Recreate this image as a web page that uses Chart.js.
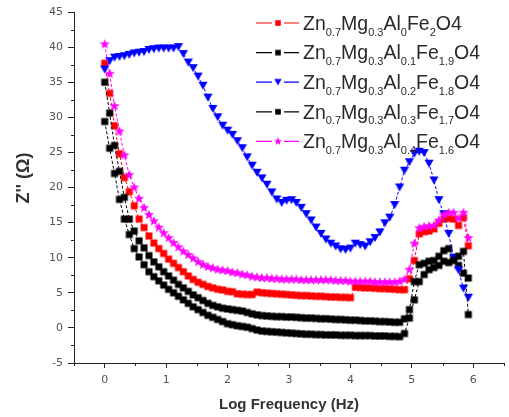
<!DOCTYPE html>
<html>
<head>
<meta charset="utf-8">
<script src="https://cdn.jsdelivr.net/npm/chart.js@4.4.1/dist/chart.umd.min.js"></script>
<style>
  html, body { margin: 0; padding: 0; background: #fff; }
</style>
</head>
<body>
<canvas id="impChart" width="509" height="417"></canvas>
<script>
// log10 of measuring frequency (Hz)
const logF = [
  0, 0.08, 0.16, 0.24, 0.32, 0.4, 0.48, 0.56, 0.64, 0.72,
  0.8, 0.88, 0.96, 1.04, 1.12, 1.2, 1.28, 1.36, 1.44, 1.52,
  1.6, 1.68, 1.76, 1.84, 1.92, 2, 2.08, 2.16, 2.24, 2.32,
  2.4, 2.48, 2.56, 2.64, 2.72, 2.8, 2.88, 2.96, 3.04, 3.12,
  3.2, 3.28, 3.36, 3.44, 3.52, 3.6, 3.68, 3.76, 3.84, 3.92,
  4, 4.08, 4.16, 4.24, 4.32, 4.4, 4.48, 4.56, 4.64, 4.72,
  4.8, 4.88, 4.96, 5.04, 5.12, 5.2, 5.28, 5.36, 5.44, 5.52,
  5.6, 5.68, 5.76, 5.84, 5.92
];

// Z'' (ohm) for each Al content
const zAl00 = [
  37.7, 33.4, 28.8, 24.8, 21.4, 19.4, 17.4, 15.5, 14.3, 13.1,
  12.1, 11.3, 10.6, 9.8, 9.2, 8.6, 8.0, 7.4, 6.9, 6.5,
  6.2, 5.9, 5.7, 5.5, 5.4, 5.2, 5.15, 4.85, 4.8, 4.75,
  4.75, 5.1, 5.0, 4.95, 4.9, 4.85, 4.8, 4.75, 4.7, 4.65,
  4.6, 4.6, 4.55, 4.5, 4.5, 4.45, 4.4, 4.4, 4.35, 4.35,
  4.3, 5.8, 5.75, 5.7, 5.7, 5.65, 5.6, 5.6, 5.55, 5.5,
  5.45, 5.45, 7.0, 9.6, 13.4, 13.7, 13.8, 14.1, 14.9, 15.5,
  15.6, 15.5, 14.6, 15.7, 11.7
];
const zAl01 = [
  35.0, 30.6, 26.0, 22.3, 18.6, 15.5, 13.8, 12.4, 11.4, 10.3,
  9.4, 8.7, 8.0, 7.4, 6.8, 6.2, 5.7, 5.2, 4.7, 4.3,
  3.9, 3.5, 3.2, 3.0, 2.8, 2.7, 2.6, 2.5, 2.4, 2.2,
  2.0, 1.85, 1.75, 1.7, 1.65, 1.6, 1.6, 1.55, 1.55, 1.5,
  1.45, 1.4, 1.4, 1.35, 1.3, 1.3, 1.25, 1.2, 1.2, 1.15,
  1.1, 1.1, 1.05, 1.0, 1.0, 0.95, 0.9, 0.9, 0.85, 0.8,
  0.8, 1.3, 2.6, 6.6, 9.0, 9.2, 9.5, 9.6, 10.2, 11.0,
  11.3, 10.0, 8.9, 7.8, 7.1
];
const zAl02 = [
  36.8, 38.0, 38.5, 38.6, 38.7, 38.9, 39.1, 39.2, 39.3, 39.6,
  39.7, 39.8, 39.8, 39.8, 39.8, 40.0, 39.0, 37.8, 37.0, 35.8,
  34.5, 32.8, 31.2, 30.0, 28.8, 28.1, 27.5, 26.6, 25.6, 24.3,
  23.1, 22.1, 21.3, 20.4, 19.3, 18.3, 17.8, 18.1, 18.2, 17.8,
  17.1, 16.2, 15.3, 14.3, 13.4, 12.6, 12.0, 11.6, 11.2, 11.1,
  11.3, 12.0, 11.8, 11.6, 12.2, 12.8, 13.6, 14.9, 15.7, 17.5,
  20.0, 22.4, 23.6, 24.8, 25.1, 24.9, 23.4, 21.0, 18.2, 16.2,
  13.4, 10.0, 8.2, 5.6, 4.3
];
const zAl03 = [
  29.4, 25.6, 22.0, 18.3, 15.5, 13.3, 11.3, 10.1, 9.0, 8.0,
  7.3, 6.7, 6.1, 5.5, 5.0, 4.5, 4.0, 3.5, 3.0, 2.6,
  2.2, 1.8, 1.5, 1.2, 0.9, 0.6, 0.45, 0.3, 0.2, 0.1,
  -0.1, -0.3, -0.45, -0.5, -0.55, -0.6, -0.65, -0.7, -0.75, -0.8,
  -0.85, -0.9, -0.9, -0.95, -0.95, -1.0, -1.0, -1.0, -1.05, -1.05,
  -1.05, -1.1, -1.1, -1.1, -1.1, -1.15, -1.15, -1.15, -1.2, -1.2,
  -1.25, -0.8, 1.4, 4.0, 6.6, 7.6, 8.3, 8.6, 8.9, 9.5,
  9.3, 9.6, 10.2, 10.9, 1.9
];
const zAl04 = [
  40.4, 36.2, 31.6, 28.0, 24.6, 21.8, 20.0, 18.4, 17.1, 16.1,
  15.2, 14.3, 13.5, 12.8, 12.1, 11.5, 10.9, 10.4, 9.9, 9.4,
  9.0, 8.7, 8.5, 8.3, 8.2, 8.1, 7.9, 7.8, 7.6, 7.5,
  7.3, 7.2, 7.1, 7.1, 7.0, 7.0, 6.9, 6.9, 6.9, 6.9,
  6.8, 6.8, 6.8, 6.8, 6.8, 6.8, 6.8, 6.7, 6.7, 6.7,
  6.6, 6.6, 6.6, 6.6, 6.6, 6.5, 6.5, 6.5, 6.5, 6.5,
  6.6, 6.9, 8.3, 12.0, 14.2, 14.4, 14.5, 14.6, 15.3, 16.1,
  16.4, 16.4, 15.6, 16.4, 12.8
];

// composition subscripts for the legend
const alContent = ['0', '0.1', '0.2', '0.3', '0.4'];
const feContent = ['2', '1.9', '1.8', '1.7', '1.6'];

const xTicks = [0, 1, 2, 3, 4, 5, 6];
const yTicks = [-5, 0, 5, 10, 15, 20, 25, 30, 35, 40, 45];

const seriesY = [zAl00, zAl01, zAl02, zAl03, zAl04];
const colors = ['#ff0000', '#000000', '#0000ff', '#000000', '#ff00ff'];
const shapes = ['square', 'square', 'tri', 'square', 'star'];

function markerCanvas(shape, color, scale) {
  const s = scale || 1;
  const c = document.createElement('canvas');
  c.width = 12; c.height = 12;
  const g = c.getContext('2d');
  g.fillStyle = color;
  g.translate(6, 6);
  g.beginPath();
  if (shape === 'square') {
    g.rect(-3.5 * s, -3.5 * s, 7 * s, 7 * s);
  } else if (shape === 'tri') {
    g.moveTo(-4.6 * s, -4 * s);
    g.lineTo(4.6 * s, -4 * s);
    g.lineTo(0, 4 * s);
    g.closePath();
  } else {
    for (let i = 0; i < 10; i++) {
      const r = (i % 2 ? 2.3 : 5.3) * s;
      const a = -Math.PI / 2 + i * Math.PI / 5;
      g.lineTo(r * Math.cos(a), r * Math.sin(a));
    }
    g.closePath();
  }
  g.fill();
  return c;
}

const datasets = seriesY.map((ys, i) => ({
  data: ys.map((v, k) => ({ x: logF[k], y: v })),
  showLine: true,
  borderColor: colors[i],
  borderWidth: 1,
  borderDash: [3, 2],
  pointStyle: markerCanvas(shapes[i], colors[i]),
  pointRadius: 4,
  order: 5 - i
}));

// legend drawn inside the plot, with subscripted formulas
const formulaLegend = {
  id: 'formulaLegend',
  afterDatasetsDraw(chart) {
    const ctx = chart.ctx;
    ctx.save();
    ctx.setLineDash([]);
    seriesY.forEach((_, i) => {
      const cy = 23 + i * 29.6;
      ctx.strokeStyle = colors[i];
      ctx.lineWidth = 1.2;
      ctx.beginPath();
      ctx.moveTo(256, cy); ctx.lineTo(272, cy);
      ctx.moveTo(284, cy); ctx.lineTo(299, cy);
      ctx.stroke();
      ctx.drawImage(markerCanvas(shapes[i], colors[i], 0.8), 272, cy - 6);
      const parts = [['Zn', 0], ['0.7', 1], ['Mg', 0], ['0.3', 1], ['Al', 0],
        [alContent[i], 1], ['Fe', 0], [feContent[i], 1], ['O4', 0]];
      let x = 303;
      ctx.fillStyle = '#2a2a2a';
      ctx.textBaseline = 'alphabetic';
      parts.forEach(([t, sub]) => {
        ctx.font = sub ? '11px "Liberation Sans", Arial, sans-serif' : '19.5px "Liberation Sans", Arial, sans-serif';
        ctx.fillText(t, x, sub ? cy + 12.5 : cy + 6.8);
        x += ctx.measureText(t).width;
      });
    });
    ctx.restore();
  }
};

// half-step minor ticks on both axes, plus the rotated Z'' title
const axisExtras = {
  id: 'axisExtras',
  afterDraw(chart) {
    const { ctx, scales: { x, y } } = chart;
    ctx.save();
    ctx.strokeStyle = '#222';
    ctx.lineWidth = 1;
    ctx.beginPath();
    [-0.5, 0.5, 1.5, 2.5, 3.5, 4.5, 5.5, 6.5].forEach(v => {
      const px = Math.round(x.getPixelForValue(v)) + 0.5;
      ctx.moveTo(px, y.bottom); ctx.lineTo(px, y.bottom + 3);
    });
    [-2.5, 2.5, 7.5, 12.5, 17.5, 22.5, 27.5, 32.5, 37.5, 42.5].forEach(v => {
      const py = Math.round(y.getPixelForValue(v)) + 0.5;
      ctx.moveTo(x.left, py); ctx.lineTo(x.left - 3, py);
    });
    ctx.stroke();

    ctx.translate(24, 178);
    ctx.rotate(-Math.PI / 2);
    ctx.fillStyle = '#333';
    ctx.font = 'bold 18px "Liberation Sans", Arial, sans-serif';
    ctx.textAlign = 'center';
    ctx.textBaseline = 'middle';
    ctx.fillText("Z'' (Ω)", 0, 0);
    ctx.restore();
  }
};

const tickFont = { family: '"DejaVu Sans", sans-serif', size: 11 };

new Chart(document.getElementById('impChart'), {
  type: 'scatter',
  data: { datasets },
  options: {
    responsive: false,
    animation: false,
    layout: { padding: { top: 12, right: 2, left: 0, bottom: 0 } },
    plugins: { legend: { display: false }, tooltip: { enabled: false } },
    scales: {
      x: {
        type: 'linear', min: -0.5, max: 6.5,
        afterBuildTicks: s => { s.ticks = xTicks.map(v => ({ value: v })); },
        afterFit: s => { s.height = 54; },
        grid: { drawOnChartArea: false, tickLength: 5, tickColor: '#222' },
        border: { color: '#222', width: 1 },
        ticks: { padding: 6, color: '#555', font: tickFont },
        title: {
          display: true, text: 'Log Frequency (Hz)', color: '#333',
          font: { family: '"Liberation Sans", Arial, sans-serif', size: 15, weight: 'bold' },
          padding: { top: 0, bottom: 3 }
        }
      },
      y: {
        type: 'linear', min: -5, max: 45,
        afterBuildTicks: s => { s.ticks = yTicks.map(v => ({ value: v })); },
        afterFit: s => { s.width = 74; },
        grid: { drawOnChartArea: false, tickLength: 6, tickColor: '#222' },
        border: { color: '#222', width: 1 },
        ticks: { padding: 5, color: '#555', font: tickFont }
      }
    }
  },
  plugins: [formulaLegend, axisExtras]
});
</script>
</body>
</html>
